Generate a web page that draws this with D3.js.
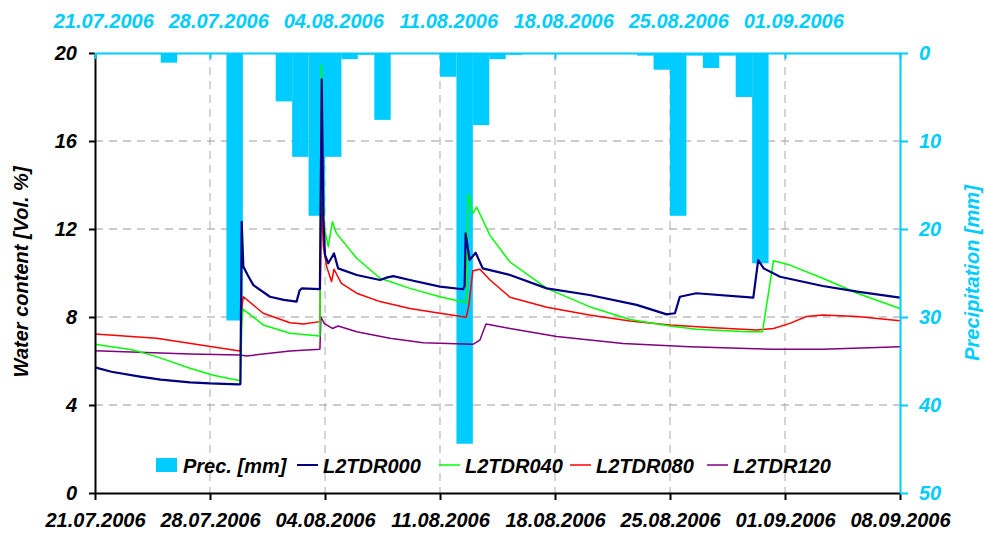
<!DOCTYPE html>
<html>
<head>
<meta charset="utf-8">
<script src="https://cdn.jsdelivr.net/npm/d3@7"></script>
<style>
  body { margin: 0; background: #fff; }
  text { font-family: "Liberation Sans", Arial, sans-serif; font-weight: bold; font-style: italic; }
</style>
</head>
<body>
<script>
// chart size
var width = 984,
    height = 535;

// start date, day offsets are counted from here
var startDay = Date.UTC(2006, 6, 21);
var nDays = 49;

// daily precipitation [mm], 21.07 ... 07.09
var precip = [0, 0, 0, 0, 1.1, 0, 0, 0, 30.4, 0,
              0, 5.5, 11.8, 18.5, 11.8, 0.7, 0.2, 7.6, 0.1, 0.1,
              0, 2.7, 44.4, 8.2, 0.7, 0.2, 0, 0, 0, 0,
              0, 0, 0, 0.3, 1.9, 18.5, 0.3, 1.7, 0.3, 5.0,
              23.9, 0, 0, 0, 0, 0, 0, 0, 0];

// water content [Vol. %] as [day offset, value]
var tdr000 = [[0,5.71],[1,5.51],[2.74,5.29],[4,5.15],[5.78,5.03],[7,4.98],[8.72,4.94],[8.85,4.95],
  [8.93,12.33],[9.03,10.29],[9.3,9.9],[9.64,9.45],[10.65,8.92],[11.5,8.78],[12.27,8.70],[12.45,9.2],
  [12.58,9.30],[13.69,9.27],[13.8,18.8],[13.9,12.5],[14.0,10.82],[14.2,10.44],[14.55,10.89],[14.8,10.21],
  [15.93,9.91],[17.35,9.68],[17.8,9.8],[18.16,9.86],[19.17,9.68],[21.0,9.38],[22.4,9.26],[22.5,9.4],
  [22.56,11.8],[22.8,10.59],[23.17,10.92],[23.6,10.21],[25.26,9.91],[27.5,9.30],[30.1,9.0],[32.97,8.55],
  [34.8,8.12],[35.3,8.17],[35.6,8.92],[36.6,9.08],[40.07,8.88],[40.37,10.59],[40.7,10.21],[41.7,9.83],
  [44.3,9.41],[46.4,9.15],[49,8.88]];
var tdr040 = [[0,6.76],[1,6.65],[2.33,6.5],[3.75,6.2],[5.78,5.67],[7.2,5.35],[8.62,5.14],[8.85,5.1],
  [8.95,8.0],[9.03,8.35],[10.24,7.64],[11.87,7.26],[13.69,7.14],[13.78,19.45],[13.85,14.1],[13.95,12.1],
  [14.2,11.2],[14.45,12.33],[14.7,11.8],[15.93,10.67],[17.35,9.76],[19.17,9.3],[21.0,8.92],[22.6,8.65],
  [22.72,13.59],[23.0,12.7],[23.23,13.0],[24.05,11.7],[25.26,10.5],[27.5,9.3],[30.1,8.47],[32.56,7.89],
  [35.0,7.59],[36.6,7.44],[39.7,7.33],[40.63,7.33],[41.3,10.56],[42.3,10.36],[44.3,9.76],[46.4,9.08],
  [49,8.39]];
var tdr080 = [[0,7.23],[3.75,7.03],[8.72,6.47],[8.85,6.45],[8.95,8.5],[9.03,8.92],[10.24,8.17],[11.87,7.74],
  [12.68,7.68],[13.69,7.79],[13.78,13.27],[13.9,11.2],[14.1,10.29],[14.4,9.61],[14.55,10.17],[15.0,9.53],
  [15.93,9.08],[17.35,8.70],[19.17,8.39],[21.0,8.17],[22.6,7.99],[22.75,8.5],[23.0,10.1],[23.43,10.17],
  [24.05,9.68],[25.26,8.9],[27.5,8.44],[30.1,8.09],[32.56,7.82],[35.0,7.64],[37.4,7.52],[40.27,7.41],
  [41.3,7.48],[42.3,7.71],[43.3,8.02],[44.3,8.09],[46.4,8.02],[49,7.83]];
var tdr120 = [[0,6.47],[5.78,6.32],[8.83,6.27],[9.23,6.23],[11.87,6.45],[13.69,6.53],[13.75,8.0],[13.95,7.71],
  [14.2,7.6],[14.45,7.48],[14.8,7.59],[15.93,7.33],[17.95,7.03],[19.98,6.83],[23.0,6.76],[23.43,6.95],
  [23.8,7.68],[25.26,7.48],[28.1,7.11],[32.15,6.8],[36.2,6.65],[41.3,6.53],[44.3,6.53],[49,6.65]];

var seriesNames = ["L2TDR000", "L2TDR040", "L2TDR080", "L2TDR120"];
var seriesColors = ["#000080", "#00ff00", "#ff0000", "#800080"];
var seriesData = [tdr000, tdr040, tdr080, tdr120];

var waterTicks = [0, 4, 8, 12, 16, 20];
var precTicks = [0, 10, 20, 30, 40, 50];

var cyan = "#00ccff";

function dayDate(d) { return new Date(startDay + d * 86400000); }

var weeks = d3.range(0, nDays + 1, 7).map(dayDate);

var svg = d3.select("body").append("svg")
    .attr("width", width)
    .attr("height", height);

var x = d3.scaleUtc().domain([dayDate(0), dayDate(nDays)]).range([95, 900]);
var y = d3.scaleLinear().domain([0, 20]).range([493, 53]);
var yP = d3.scaleLinear().domain([0, 50]).range([53, 493]);

var fmt = d3.utcFormat("%d.%m.%Y");

// grid
svg.append("g").selectAll("line.h")
    .data(waterTicks.filter(function(v){ return v > 0 && v < 20; }))
    .enter().append("line")
    .attr("x1", 95).attr("x2", 900)
    .attr("y1", function(d){ return y(d); }).attr("y2", function(d){ return y(d); })
    .attr("stroke", "#999").attr("stroke-dasharray", "8,6");
svg.append("g").selectAll("line.v")
    .data(weeks.slice(1, -1))
    .enter().append("line")
    .attr("x1", function(d){ return x(d); }).attr("x2", function(d){ return x(d); })
    .attr("y1", 53).attr("y2", 493)
    .attr("stroke", "#aaa").attr("stroke-dasharray", "8,6");

// precipitation bars hanging from the top
svg.append("g").selectAll("rect")
    .data(precip)
    .enter().append("rect")
    .attr("x", function(d, i){ return x(dayDate(i)); })
    .attr("width", function(d, i){ return x(dayDate(i + 1)) - x(dayDate(i)); })
    .attr("y", yP(0))
    .attr("height", function(d){ return yP(d) - yP(0); })
    .attr("fill", cyan);

// lines (drawn back to front)
var line = d3.line()
    .x(function(d){ return x(dayDate(d[0])); })
    .y(function(d){ return y(d[1]); });

[3, 2, 1, 0].forEach(function(k) {
  svg.append("path")
    .datum(seriesData[k])
    .attr("d", line)
    .attr("fill", "none")
    .attr("stroke", seriesColors[k])
    .attr("stroke-width", k == 0 ? 2.2 : 1.5)
    .attr("stroke-linejoin", "round");
});

// axes
var bottom = svg.append("g")
    .attr("transform", "translate(0,493)")
    .call(d3.axisBottom(x).tickValues(weeks).tickFormat(fmt).tickSize(7).tickPadding(13).tickSizeOuter(0));
var left = svg.append("g")
    .attr("transform", "translate(95,0)")
    .call(d3.axisLeft(y).tickValues(waterTicks).tickSize(6).tickPadding(12).tickSizeOuter(0));
var right = svg.append("g")
    .attr("transform", "translate(900,0)")
    .call(d3.axisRight(yP).tickValues(precTicks).tickSize(8).tickPadding(11).tickSizeOuter(0));
var topTicks = svg.append("g")
    .attr("transform", "translate(0,53)")
    .call(d3.axisTop(x).tickValues(weeks).tickSize(-6).tickFormat("").tickSizeOuter(0));
var topLabels = svg.append("g")
    .attr("transform", "translate(0,53)")
    .call(d3.axisTop(x).tickValues(weeks.slice(0, -1).map(function(d){ return new Date(+d + 43200000); }))
      .tickFormat(fmt).tickSize(0).tickPadding(25).tickSizeOuter(0));
topLabels.select(".domain").remove();

[bottom, left].forEach(function(g) {
  g.selectAll(".domain, .tick line").attr("stroke", "#000").attr("stroke-width", 2);
  g.selectAll("text").attr("fill", "#000").style("font-size", "20px");
});
[right, topTicks].forEach(function(g) {
  g.selectAll(".domain, .tick line").attr("stroke", cyan).attr("stroke-width", 2);
});
right.selectAll("text").attr("fill", cyan).style("font-size", "20px");
topLabels.selectAll("text").attr("fill", cyan).style("font-size", "20px");
bottom.selectAll("text").attr("dy", "0.71em");

// axis titles
svg.append("text")
    .attr("transform", "translate(28,272) rotate(-90)")
    .attr("text-anchor", "middle")
    .style("font-size", "20px")
    .text("Water content [Vol. %]");
svg.append("text")
    .attr("transform", "translate(979,273) rotate(-90)")
    .attr("text-anchor", "middle")
    .attr("fill", cyan)
    .style("font-size", "20px")
    .text("Precipitation [mm]");

// legend
var legend = svg.append("g").style("font-size", "20px");
legend.append("rect").attr("x", 156).attr("y", 458).attr("width", 21).attr("height", 14).attr("fill", cyan);
legend.append("text").attr("x", 183).attr("y", 473).text("Prec. [mm]");
var legX = [297, 439, 570, 707];
seriesNames.forEach(function(name, k) {
  legend.append("line")
    .attr("x1", legX[k]).attr("x2", legX[k] + 21)
    .attr("y1", 465).attr("y2", 465)
    .attr("stroke", seriesColors[k]).attr("stroke-width", k == 0 ? 2 : 1.5);
  legend.append("text").attr("x", legX[k] + 26).attr("y", 473).text(name);
});
</script>
</body>
</html>
